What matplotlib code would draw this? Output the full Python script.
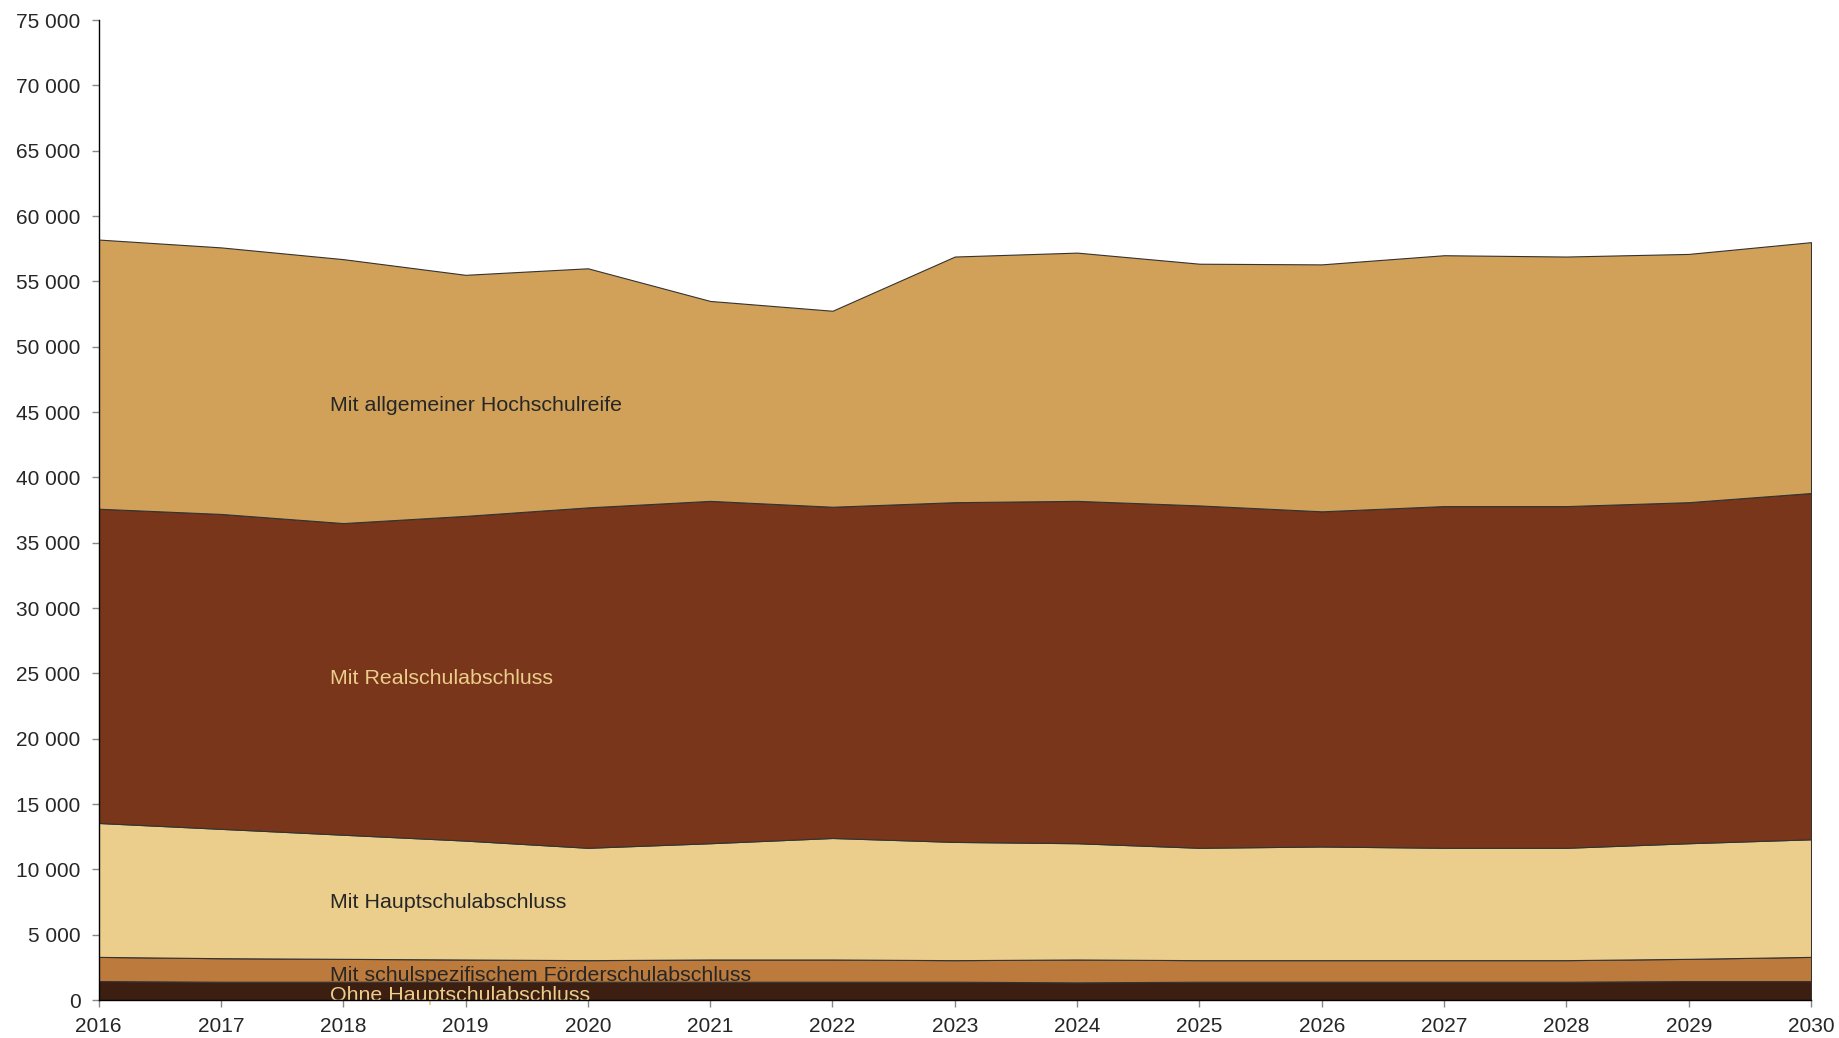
import matplotlib.pyplot as plt
from matplotlib.ticker import FuncFormatter

plt.rcParams['font.family'] = ['Liberation Sans', 'DejaVu Sans']

years = list(range(2016, 2031))

# Schulabgänger nach Abschlussart (Personen)
ohne_hs = [1450, 1400, 1400, 1400, 1400, 1400, 1400, 1400, 1350, 1400, 1400, 1400, 1400, 1450, 1450]
foerder = [1850, 1800, 1750, 1700, 1650, 1700, 1700, 1650, 1750, 1650, 1650, 1650, 1650, 1700, 1850]
haupt = [10250, 9900, 9500, 9100, 8600, 8900, 9300, 9050, 8900, 8600, 8700, 8600, 8600, 8850, 9000]
real = [24050, 24100, 23850, 24850, 26050, 26200, 25350, 26000, 26200, 26200, 25650, 26150, 26150, 26100, 26500]
hochschulreife = [20600, 20400, 20200, 18450, 18300, 15300, 15000, 18800, 19000, 18500, 18900, 19200, 19100, 19000, 19200]

series_labels = ['Ohne Hauptschulabschluss',
                 'Mit schulspezifischem Förderschulabschluss',
                 'Mit Hauptschulabschluss',
                 'Mit Realschulabschluss',
                 'Mit allgemeiner Hochschulreife']
fill_colors = ['#3d1f12', '#bc7a3c', '#ebcd8c', '#7a361a', '#d1a159']
text_colors = ['#ebcd8c', '#262626', '#262626', '#ebcd8c', '#262626']
label_y = [370, 1890, 7430, 24580, 45480]

fig = plt.figure(figsize=(18.39, 10.38), dpi=100)
ax = fig.add_axes([0.0536, 0.0366, 0.9312, 0.9441])

ax.stackplot(years, ohne_hs, foerder, haupt, real, hochschulreife,
             colors=fill_colors, edgecolor='#333333', linewidth=0.8)

for name, y, c in zip(series_labels, label_y, text_colors):
    ax.text(2017.89, y, name, color=c, fontsize=15.4, va='center', ha='left')

ax.set_xlim(2016, 2030)
ax.set_ylim(0, 75000)
ax.set_xticks(years)
ax.set_yticks(range(0, 75001, 5000))
ax.yaxis.set_major_formatter(FuncFormatter(lambda v, p: f'{int(v):,}'.replace(',', ' ')))

for side in ['top', 'right']:
    ax.spines[side].set_visible(False)
for side in ['left', 'bottom']:
    ax.spines[side].set_color('black')
    ax.spines[side].set_linewidth(1.0)
    ax.spines[side].set_zorder(5)

ax.tick_params(axis='both', direction='out', length=5, width=1, color='#888888',
               labelsize=15, labelcolor='#262626')
ax.tick_params(axis='x', pad=7)
ax.tick_params(axis='y', pad=8)

fig.savefig('out.png', dpi=100)
